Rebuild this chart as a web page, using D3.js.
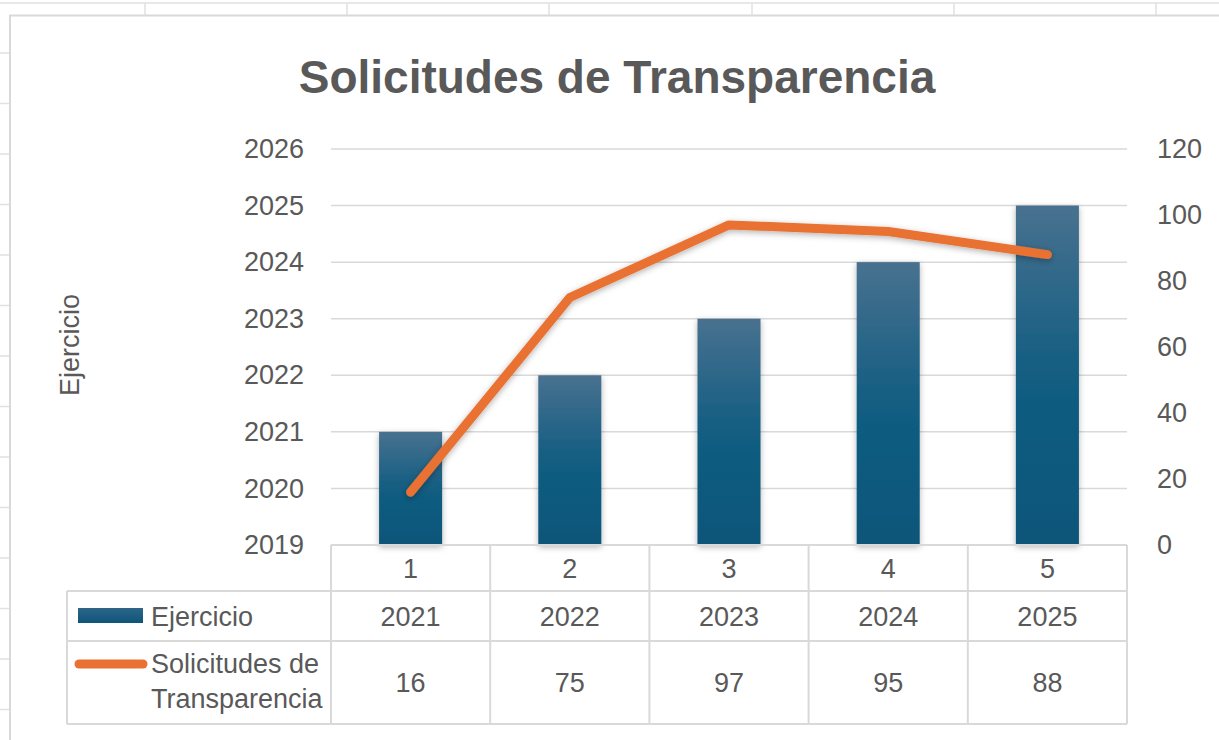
<!DOCTYPE html>
<html>
<head>
<meta charset="utf-8">
<script src="https://cdn.jsdelivr.net/npm/d3@7"></script>
<style>
  body { margin: 0; background: #fff; }
  svg { display: block; font-family: "Liberation Sans", Arial, sans-serif; }
</style>
</head>
<body>
<svg id="drawing_region"></svg>
<script>
// data
const categories = [1, 2, 3, 4, 5];
const ejercicio = [2021, 2022, 2023, 2024, 2025];
const solicitudes = [16, 75, 97, 95, 88];
const leftTicks = [2019, 2020, 2021, 2022, 2023, 2024, 2025, 2026];
const rightTicks = [0, 20, 40, 60, 80, 100, 120];
const seriesNames = ["Ejercicio", "Solicitudes de Transparencia"];
const chartTitle = "Solicitudes de Transparencia";

const W = 1219, H = 740;
const textColor = "#595959";
const gridColor = "#d9d9d9";
const barDark = "#0c5679";
const lineColor = "#e97132";

const svg = d3.select("#drawing_region")
    .attr("width", W)
    .attr("height", H);

const defs = svg.append("defs");
const grad = defs.append("linearGradient")
    .attr("id", "barGrad")
    .attr("x1", 0).attr("y1", 0).attr("x2", 0).attr("y2", 1);
grad.append("stop").attr("offset", "0%").attr("stop-color", "#48718f");
grad.append("stop").attr("offset", "50%").attr("stop-color", "#125d82");
grad.append("stop").attr("offset", "100%").attr("stop-color", barDark);

const shadow = defs.append("filter")
    .attr("id", "shadow")
    .attr("x", "-30%").attr("y", "-30%").attr("width", "160%").attr("height", "160%");
shadow.append("feDropShadow")
    .attr("dx", 0).attr("dy", 2)
    .attr("stdDeviation", 3)
    .attr("flood-color", "#000")
    .attr("flood-opacity", 0.3);

// spreadsheet grid behind the chart
const sheet = svg.append("g").attr("stroke", "#e1e1e1").attr("stroke-width", 1.5);
sheet.append("line").attr("x1", 0).attr("x2", W).attr("y1", 3).attr("y2", 3);
[145, 347, 549, 752, 954, 1156].forEach(x => {
    sheet.append("line").attr("x1", x).attr("x2", x).attr("y1", 3).attr("y2", 15);
});
d3.range(53, H, 50.5).forEach(y => {
    sheet.append("line").attr("x1", 0).attr("x2", 10).attr("y1", y).attr("y2", y);
});

// chart area border
svg.append("rect")
    .attr("x", 10).attr("y", 15.5)
    .attr("width", W + 20).attr("height", H + 20)
    .attr("fill", "#fff")
    .attr("stroke", gridColor)
    .attr("stroke-width", 2);

const margin = { top: 149, bottom: 545, left: 331, right: 1127 };

const xscale = d3.scaleBand()
    .domain(categories)
    .range([margin.left, margin.right])
    .paddingInner(0.604)
    .paddingOuter(0.302);

const ylscale = d3.scaleLinear()
    .domain([2019, 2026])
    .range([margin.bottom, margin.top]);

const yrscale = d3.scaleLinear()
    .domain([0, 120])
    .range([margin.bottom, margin.top]);

// title
svg.append("text")
    .attr("x", 617).attr("y", 93)
    .attr("text-anchor", "middle")
    .attr("font-size", 46)
    .attr("font-weight", "bold")
    .attr("fill", textColor)
    .text(chartTitle);

// gridlines
svg.append("g")
    .selectAll("line")
    .data(leftTicks)
    .join("line")
    .attr("x1", margin.left).attr("x2", margin.right)
    .attr("y1", d => ylscale(d)).attr("y2", d => ylscale(d))
    .attr("stroke", gridColor)
    .attr("stroke-width", 1.5);

// left axis
const yaxisL = d3.axisLeft(ylscale).tickValues(leftTicks).tickFormat(d3.format("d")).tickSize(0).tickPadding(27);
svg.append("g")
    .attr("transform", `translate(${margin.left}, 0)`)
    .call(yaxisL)
    .call(g => g.select(".domain").remove())
    .selectAll("text")
    .attr("font-size", 27)
    .attr("font-family", "Liberation Sans, Arial, sans-serif")
    .attr("fill", textColor);

// right axis
const yaxisR = d3.axisRight(yrscale).tickValues(rightTicks).tickSize(0).tickPadding(30);
svg.append("g")
    .attr("transform", `translate(${margin.right}, 0)`)
    .call(yaxisR)
    .call(g => g.select(".domain").remove())
    .selectAll("text")
    .attr("font-size", 27)
    .attr("font-family", "Liberation Sans, Arial, sans-serif")
    .attr("fill", textColor);

// axis title
svg.append("text")
    .attr("transform", "translate(79, 345) rotate(-90)")
    .attr("text-anchor", "middle")
    .attr("font-size", 27)
    .attr("fill", textColor)
    .text(seriesNames[0]);

// bars
svg.append("g")
    .selectAll("rect")
    .data(ejercicio)
    .join("rect")
    .attr("x", (d, i) => xscale(categories[i]))
    .attr("y", d => ylscale(d))
    .attr("width", xscale.bandwidth())
    .attr("height", d => ylscale(2019) - ylscale(d))
    .attr("fill", "url(#barGrad)")
    .attr("filter", "url(#shadow)");

// line
const line = d3.line()
    .x((d, i) => xscale(categories[i]) + xscale.bandwidth() / 2)
    .y(d => yrscale(d));
svg.append("path")
    .datum(solicitudes)
    .attr("d", line)
    .attr("fill", "none")
    .attr("stroke", lineColor)
    .attr("stroke-width", 9)
    .attr("stroke-linecap", "round")
    .attr("stroke-linejoin", "round")
    .attr("filter", "url(#shadow)");

// data table
const step = xscale.step();
const rows = [
    { top: 545, bottom: 591 },
    { top: 591, bottom: 641 },
    { top: 641, bottom: 724 }
];
const tableLeft = 67;
const table = svg.append("g")
    .attr("stroke", gridColor)
    .attr("stroke-width", 2)
    .attr("fill", "none");

// horizontal rules
table.append("line").attr("x1", margin.left).attr("x2", margin.right).attr("y1", rows[0].top).attr("y2", rows[0].top);
[rows[1].top, rows[2].top, rows[2].bottom].forEach(y => {
    table.append("line").attr("x1", tableLeft).attr("x2", margin.right).attr("y1", y).attr("y2", y);
});
// vertical rules
table.append("line").attr("x1", tableLeft).attr("x2", tableLeft).attr("y1", rows[1].top).attr("y2", rows[2].bottom);
d3.range(categories.length + 1).forEach(i => {
    const x = margin.left + i * step;
    table.append("line").attr("x1", x).attr("x2", x).attr("y1", rows[0].top).attr("y2", rows[2].bottom);
});

const cellText = (rowIdx, values) => {
    svg.append("g")
        .selectAll("text")
        .data(values)
        .join("text")
        .attr("x", (d, i) => xscale(categories[i]) + xscale.bandwidth() / 2)
        .attr("y", (rows[rowIdx].top + rows[rowIdx].bottom) / 2)
        .attr("dy", "0.36em")
        .attr("text-anchor", "middle")
        .attr("font-size", 27)
        .attr("fill", textColor)
        .text(d => d);
};
cellText(0, categories);
cellText(1, ejercicio);
cellText(2, solicitudes);

// legend keys inside the table
const keyRect = defs.append("linearGradient")
    .attr("id", "keyGrad")
    .attr("x1", 0).attr("y1", 0).attr("x2", 0).attr("y2", 1);
keyRect.append("stop").attr("offset", "0%").attr("stop-color", "#2f6589");
keyRect.append("stop").attr("offset", "100%").attr("stop-color", barDark);

svg.append("rect")
    .attr("x", 78).attr("y", 608)
    .attr("width", 65).attr("height", 15)
    .attr("fill", "url(#keyGrad)");
svg.append("text")
    .attr("x", 151).attr("y", 616)
    .attr("dy", "0.36em")
    .attr("font-size", 27)
    .attr("fill", textColor)
    .text(seriesNames[0]);

svg.append("line")
    .attr("x1", 79).attr("x2", 143)
    .attr("y1", 664).attr("y2", 664)
    .attr("stroke", lineColor)
    .attr("stroke-width", 9)
    .attr("stroke-linecap", "round");
svg.append("text")
    .attr("x", 151).attr("y", 663)
    .attr("dy", "0.36em")
    .attr("font-size", 27)
    .attr("fill", textColor)
    .text("Solicitudes de");
svg.append("text")
    .attr("x", 151).attr("y", 698)
    .attr("dy", "0.36em")
    .attr("font-size", 27)
    .attr("fill", textColor)
    .text("Transparencia");
</script>
</body>
</html>
